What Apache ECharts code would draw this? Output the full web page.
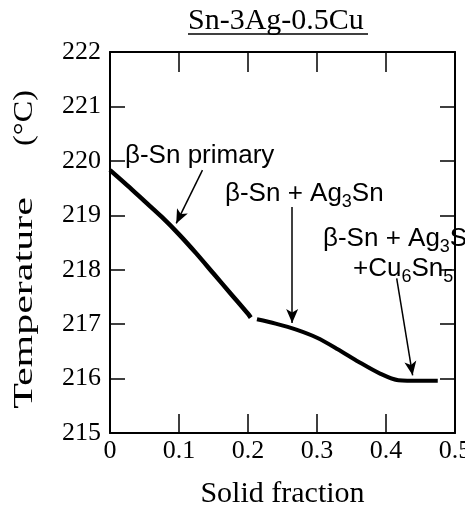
<!DOCTYPE html>
<html>
<head>
<meta charset="utf-8">
<script src="https://cdn.jsdelivr.net/npm/echarts@6/dist/echarts.min.js"></script>
<style>html,body{margin:0;padding:0;background:#fff;}#c{width:465px;height:510px;}</style>
</head>
<body>
<div id="c"></div>
<script>
// ---- data ----
var titleText = 'Sn-3Ag-0.5Cu';
var xTickLabels = ['0', '0.1', '0.2', '0.3', '0.4', '0.5'];
var yTickLabels = ['215', '216', '217', '218', '219', '220', '221', '222'];
// beta-Sn primary solidification segment
var curve1X = [0, 0.025, 0.05, 0.075, 0.1, 0.125, 0.15, 0.175, 0.2, 0.204];
var curve1T = [219.83, 219.55, 219.26, 218.97, 218.65, 218.3, 217.93, 217.56, 217.19, 217.12];
// eutectic segments
var curve2X = [0.213, 0.24, 0.27, 0.3, 0.33, 0.36, 0.39, 0.418, 0.45, 0.475];
var curve2T = [217.09, 217.01, 216.9, 216.75, 216.54, 216.31, 216.1, 215.97, 215.96, 215.96];
// annotation arrows: [fromX, fromT, toX, toT]
var arrow1 = [0.134, 219.83, 0.096, 218.85];
var arrow2 = [0.264, 219.15, 0.264, 217.02];
var arrow3 = [0.4155, 217.84, 0.4386, 216.06];

function zip(xs, ys) { return xs.map(function (x, i) { return [x, ys[i]]; }); }
function arrowData(a) { return [{ coord: [a[0], a[1]] }, { coord: [a[2], a[3]] }]; }

var serif = 'Liberation Serif';
var sans = 'Liberation Sans';
var axisLine = { show: true, onZero: false, lineStyle: { color: '#000', width: 2 } };
var subRich = { s: { fontFamily: sans, fontSize: 18, color: '#000', padding: [16, 0, 0, 0] } };

var chart = echarts.init(document.getElementById('c'), null, { renderer: 'canvas' });
chart.setOption({
  animation: false,
  backgroundColor: '#fff',
  title: {
    text: titleText, left: 188, top: 6, padding: 0,
    textStyle: { fontFamily: serif, fontSize: 30, fontWeight: 'normal', color: '#000' }
  },
  grid: { left: 110, right: 10, top: 52, bottom: 77, containLabel: false, outerBoundsMode: 'none' },
  xAxis: [{
    type: 'value', position: 'bottom', min: 0, max: 0.5, interval: 0.1,
    axisLine: axisLine,
    axisTick: { inside: true, length: 19, lineStyle: { color: '#000', width: 1.5 } },
    axisLabel: { fontFamily: serif, fontSize: 26, color: '#000', margin: 5,
      formatter: function (v, i) { return xTickLabels[i]; } },
    splitLine: { show: false },
    name: 'Solid fraction', nameLocation: 'middle', nameGap: 46,
    nameTextStyle: { fontFamily: serif, fontSize: 30, color: '#000' }
  }, {
    type: 'value', position: 'top', min: 0, max: 0.5, interval: 0.1,
    axisLine: axisLine,
    axisTick: { inside: true, length: 20, lineStyle: { color: '#000', width: 1.5 } },
    axisLabel: { show: false }, splitLine: { show: false }
  }],
  yAxis: [{
    type: 'value', position: 'left', min: 215, max: 222, interval: 1,
    axisLine: axisLine,
    axisTick: { inside: true, length: 15, lineStyle: { color: '#000', width: 1.5 } },
    axisLabel: { fontFamily: serif, fontSize: 26, color: '#000', margin: 9,
      formatter: function (v, i) { return yTickLabels[i]; } },
    splitLine: { show: false }
  }, {
    type: 'value', position: 'right', min: 215, max: 222, interval: 1,
    axisLine: axisLine,
    axisTick: { inside: true, length: 15, lineStyle: { color: '#000', width: 1.5 } },
    axisLabel: { show: false }, splitLine: { show: false }
  }],
  series: [{
    type: 'line', name: 'primary', data: zip(curve1X, curve1T),
    showSymbol: false, smooth: 0.3, lineStyle: { color: '#000', width: 4.5 }, silent: true
  }, {
    type: 'line', name: 'eutectic', data: zip(curve2X, curve2T),
    showSymbol: false, smooth: 0.3, lineStyle: { color: '#000', width: 4 }, silent: true,
    markLine: {
      silent: true, symbol: ['none', 'arrow'], symbolSize: [9, 14], precision: 4,
      lineStyle: { color: '#000', width: 1.5, type: 'solid' },
      label: { show: false }, emphasis: { disabled: true },
      data: [arrowData(arrow1), arrowData(arrow2), arrowData(arrow3)]
    }
  }],
  graphic: [
    { type: 'line', shape: { x1: 188, y1: 34, x2: 368, y2: 34 }, style: { stroke: '#000', lineWidth: 1.5 } },
    { type: 'text', x: 25, y: 303, rotation: Math.PI / 2, scaleX: 1.5,
      style: { text: 'Temperature', fontFamily: serif, fontSize: 28, fill: '#000', align: 'center', verticalAlign: 'middle' } },
    { type: 'text', x: 25, y: 118, rotation: Math.PI / 2, scaleX: 1.15,
      style: { text: '(°C)', fontFamily: serif, fontSize: 28, fill: '#000', align: 'center', verticalAlign: 'middle' } },
    { type: 'text', x: 125, y: 156,
      style: { text: 'β-Sn primary', fontFamily: sans, fontSize: 26, fill: '#000', align: 'left', verticalAlign: 'middle' } },
    { type: 'text', x: 225, y: 194,
      style: { text: 'β-Sn + Ag{s|3}Sn', rich: subRich, fontFamily: sans, fontSize: 26, fill: '#000', align: 'left', verticalAlign: 'middle' } },
    { type: 'text', x: 323, y: 239,
      style: { text: 'β-Sn + Ag{s|3}Sn', rich: subRich, fontFamily: sans, fontSize: 26, fill: '#000', align: 'left', verticalAlign: 'middle' } },
    { type: 'text', x: 353, y: 269,
      style: { text: '+Cu{s|6}Sn{s|5}', rich: subRich, fontFamily: sans, fontSize: 26, fill: '#000', align: 'left', verticalAlign: 'middle' } }
  ]
});
</script>
</body>
</html>
